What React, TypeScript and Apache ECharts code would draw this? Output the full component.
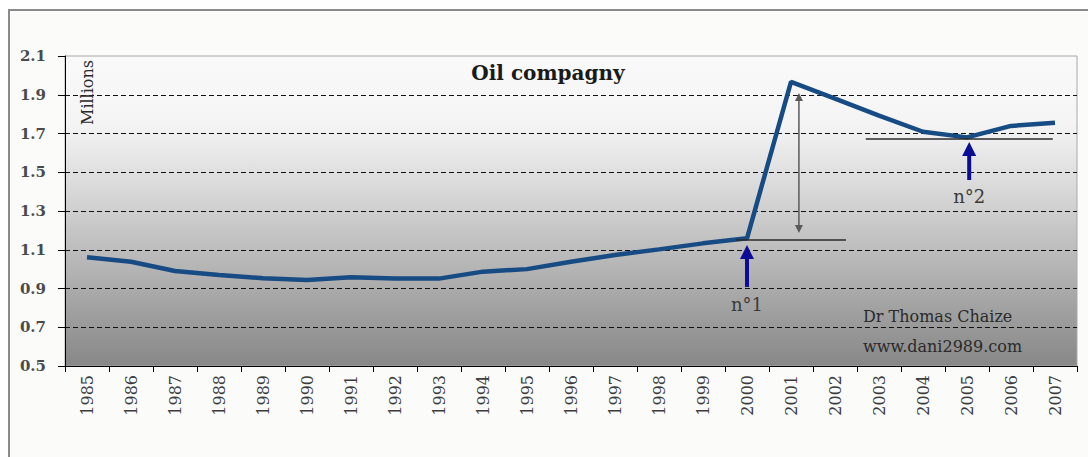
import React, { useEffect, useRef } from "react";
import * as echarts from "echarts";

const years = ["1985","1986","1987","1988","1989","1990","1991","1992","1993","1994","1995","1996","1997","1998","1999","2000","2001","2002","2003","2004","2005","2006","2007"];
const values = [1.061,1.038,0.99,0.97,0.953,0.944,0.958,0.951,0.951,0.987,1.0,1.038,1.073,1.102,1.133,1.159,1.966,1.88,1.792,1.709,1.68,1.739,1.756];

const yMin = 0.5;
const yMax = 2.1;
const yStep = 0.2;

const titleText = "Oil compagny";
const unitText = "Millions";
const signature = ["Dr Thomas Chaize", "www.dani2989.com"];

// annotations expressed in data units (category index, value)
const level1 = { from: 14.75, to: 17.25, value: 1.15 };
const level2 = { from: 17.7, to: 21.95, value: 1.672 };
const gap = { at: 16.18, top: 1.909, bottom: 1.186 };
const arrow1 = { at: 15, tip: 1.124, tail: 0.908, label: "n°1", labelValue: 0.815 };
const arrow2 = { at: 20.05, tip: 1.656, tail: 1.46, label: "n°2", labelValue: 1.377 };

const SERIF = "'DejaVu Serif', 'Liberation Serif', serif";

export default function App() {
  const ref = useRef<HTMLDivElement>(null);
  useEffect(() => {
    if (!ref.current) return;
    const chart = echarts.init(ref.current, undefined, { renderer: "svg" });
    chart.setOption({
      animation: false,
      backgroundColor: "transparent",
      grid: {
        left: 65,
        right: 11,
        top: 56,
        bottom: 91,
        show: true,
        borderColor: "#a8a8a8",
        borderWidth: 1,
        backgroundColor: new echarts.graphic.LinearGradient(0, 0, 0, 1, [
          { offset: 0, color: "#fafafa" },
          { offset: 0.22, color: "#f4f4f4" },
          { offset: 0.45, color: "#d6d6d6" },
          { offset: 1, color: "#878787" },
        ]),
      },
      xAxis: {
        type: "category",
        data: years,
        boundaryGap: true,
        axisLine: { show: true, lineStyle: { color: "#000", width: 1 } },
        axisTick: { show: true, length: 6, lineStyle: { color: "#000" } },
        axisLabel: {
          rotate: 90,
          margin: 9,
          fontFamily: SERIF,
          fontSize: 16,
          color: "#3c3c3c",
        },
        splitLine: { show: false },
      },
      yAxis: {
        type: "value",
        min: yMin,
        max: yMax,
        interval: yStep,
        axisLine: { show: true, lineStyle: { color: "#000", width: 1 } },
        axisTick: { show: true, length: 7, lineStyle: { color: "#000" } },
        axisLabel: {
          margin: 19,
          fontFamily: SERIF,
          fontSize: 15,
          fontWeight: "bold",
          color: "#4a4a4a",
          formatter: (v: number) => v.toFixed(1),
        },
        splitLine: {
          show: true,
          showMinLine: false,
          showMaxLine: false,
          lineStyle: { color: "#111", type: [5, 3], width: 1 },
        },
      },
      series: [
        {
          type: "line",
          data: values,
          symbol: "none",
          smooth: false,
          lineStyle: { color: "#174b84", width: 4.5 },
          z: 3,
        },
      ],
    });

    const px = (idx: number, v: number) => {
      const p0 = chart.convertToPixel({ gridIndex: 0 }, [0, v]) as number[];
      const p1 = chart.convertToPixel({ gridIndex: 0 }, [1, v]) as number[];
      return [p0[0] + (p1[0] - p0[0]) * idx, p0[1]];
    };

    const hLine = (a: { from: number; to: number; value: number }) => {
      const s = px(a.from, a.value);
      const e = px(a.to, a.value);
      return {
        type: "line",
        z: 50,
        shape: { x1: s[0], y1: s[1], x2: e[0], y2: e[1] },
        style: { stroke: "#2a2a2a", lineWidth: 1.5 },
      };
    };

    const blueArrow = (a: typeof arrow1) => {
      const tip = px(a.at, a.tip);
      const tail = px(a.at, a.tail);
      const lab = px(a.at, a.labelValue);
      return [
        {
          type: "line",
          z: 60,
          shape: { x1: tip[0], y1: tip[1] + 10, x2: tail[0], y2: tail[1] },
          style: { stroke: "#0c0c96", lineWidth: 4 },
        },
        {
          type: "polygon",
          z: 60,
          shape: { points: [[tip[0], tip[1]], [tip[0] - 7, tip[1] + 14], [tip[0] + 7, tip[1] + 14]] },
          style: { fill: "#0c0c96" },
        },
        {
          type: "text",
          z: 60,
          x: lab[0],
          y: lab[1],
          style: {
            text: a.label,
            fontFamily: SERIF,
            fontSize: 18,
            fill: "#3a3a3a",
            align: "center",
            verticalAlign: "middle",
          },
        },
      ];
    };

    const gTop = px(gap.at, gap.top);
    const gBot = px(gap.at, gap.bottom);

    chart.setOption({
      graphic: [
        hLine(level1),
        hLine(level2),
        {
          type: "line",
          z: 55,
          shape: { x1: gTop[0], y1: gTop[1] + 6, x2: gBot[0], y2: gBot[1] - 6 },
          style: { stroke: "#5a5a5a", lineWidth: 1.5 },
        },
        {
          type: "polygon",
          z: 55,
          shape: { points: [[gTop[0], gTop[1]], [gTop[0] - 4, gTop[1] + 8], [gTop[0] + 4, gTop[1] + 8]] },
          style: { fill: "#5a5a5a" },
        },
        {
          type: "polygon",
          z: 55,
          shape: { points: [[gBot[0], gBot[1]], [gBot[0] - 4, gBot[1] - 8], [gBot[0] + 4, gBot[1] - 8]] },
          style: { fill: "#5a5a5a" },
        },
        ...blueArrow(arrow1),
        ...blueArrow(arrow2),
        {
          type: "text",
          z: 60,
          x: 548,
          y: 73,
          style: {
            text: titleText,
            fontFamily: SERIF,
            fontSize: 20,
            fontWeight: "bold",
            fill: "#1a1a1a",
            align: "center",
            verticalAlign: "middle",
          },
        },
        {
          type: "text",
          z: 60,
          x: 87,
          y: 60,
          rotation: Math.PI / 2,
          style: {
            text: unitText,
            fontFamily: SERIF,
            fontSize: 16,
            fill: "#2a2a2a",
            align: "right",
            verticalAlign: "middle",
          },
        },
        {
          type: "text",
          z: 60,
          x: 863,
          y: 316,
          style: {
            text: signature[0],
            fontFamily: SERIF,
            fontSize: 16,
            fill: "#2a2a2a",
            align: "left",
            verticalAlign: "middle",
          },
        },
        {
          type: "text",
          z: 60,
          x: 863,
          y: 346,
          style: {
            text: signature[1],
            fontFamily: SERIF,
            fontSize: 16,
            fill: "#2a2a2a",
            align: "left",
            verticalAlign: "middle",
          },
        },
      ],
    });

    return () => chart.dispose();
  }, []);

  return (
    <div style={{ position: "absolute", left: 0, top: 0, width: 1088, height: 457, background: "#ffffff", overflow: "hidden" }}>
      <div
        style={{
          position: "absolute",
          left: 8,
          top: 9,
          width: 1200,
          height: 600,
          border: "2px solid #8a8a8a",
          background: "#fbfcfa",
        }}
      />
      <div ref={ref} style={{ position: "absolute", left: 0, top: 0, width: 1088, height: 457 }} />
    </div>
  );
}
